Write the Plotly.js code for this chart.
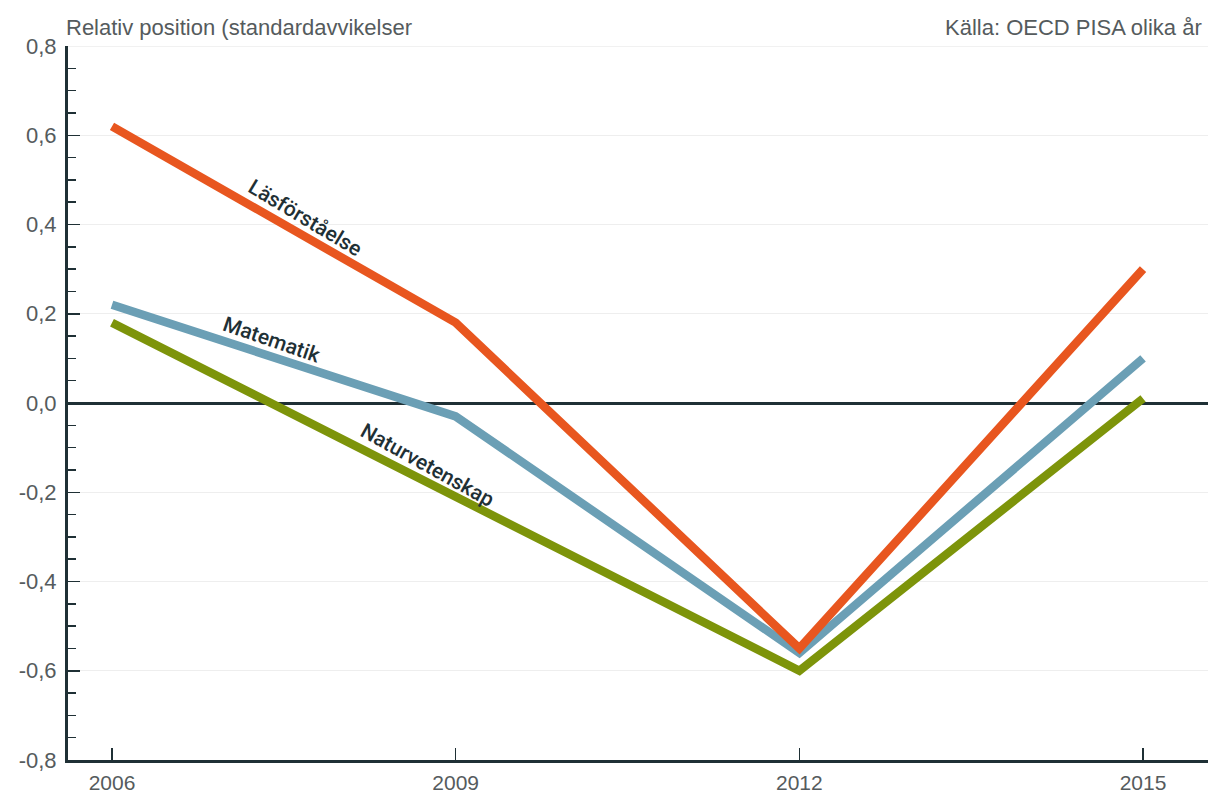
<!DOCTYPE html>
<html>
<head>
<meta charset="utf-8">
<script src="https://cdn.plot.ly/plotly-3.0.1.min.js"></script>
<style>
  html, body { margin: 0; padding: 0; background: #fff; }
  #chart { width: 1208px; height: 798px; }
</style>
</head>
<body>
<div id="chart"></div>
<script>
// ---- Data ----
const years = [2006, 2009, 2012, 2015];
const lasforstaelse = [0.62, 0.18, -0.55, 0.30];
const matematik = [0.22, -0.03, -0.56, 0.10];
const naturvetenskap = [0.18, -0.21, -0.60, 0.01];

const seriesNames = ["Läsförståelse", "Matematik", "Naturvetenskap"];
const yTickVals = [0.8, 0.6, 0.4, 0.2, 0.0, -0.2, -0.4, -0.6, -0.8];
const yTickLabels = ["0,8", "0,6", "0,4", "0,2", "0,0", "-0,2", "-0,4", "-0,6", "-0,8"];
const xTickVals = [2006, 2009, 2012, 2015];
const xTickLabels = ["2006", "2009", "2012", "2015"];

const yAxisTitle = "Relativ position (standardavvikelser";
const sourceText = "Källa: OECD PISA olika år";

// ---- Styles ----
const colors = ["#e8561f", "#6b9fb5", "#7d940a"];
const dark = "#1f3035";
const grey = "#555b5d";

const seriesData = [lasforstaelse, matematik, naturvetenskap];
const traces = seriesData.map((vals, i) => ({
  x: years,
  y: vals,
  name: seriesNames[i],
  type: "scatter",
  mode: "lines",
  line: { color: colors[i], width: 8.5 },
  hoverinfo: "x+y+name"
}));
// draw orange on top
const ordered = [traces[2], traces[1], traces[0]];

const labelFont = { family: "Roboto, 'DejaVu Sans', sans-serif", size: 21, color: dark, weight: 500 };
const textFont = { family: "'Liberation Sans', Arial, sans-serif", size: 22, color: grey };
const xTickFont = { family: "'Liberation Sans', Arial, sans-serif", size: 21, color: grey };

const layout = {
  width: 1208,
  height: 798,
  margin: { l: 68, r: 0, t: 46, b: 38 },
  paper_bgcolor: "#fff",
  plot_bgcolor: "#fff",
  showlegend: false,
  font: textFont,
  xaxis: {
    range: [2005.616, 2015.567],
    tickvals: xTickVals,
    ticktext: xTickLabels,
    ticks: "inside",
    ticklen: 12,
    tickwidth: 1.5,
    tickcolor: dark,
    showline: true,
    linecolor: dark,
    linewidth: 3,
    showgrid: false,
    zeroline: false,
    tickfont: xTickFont,
    ticklabelstandoff: 2,
    fixedrange: true
  },
  yaxis: {
    range: [-0.8, 0.8],
    tickvals: yTickVals,
    ticktext: yTickLabels,
    ticks: "inside",
    ticklen: 12,
    tickwidth: 1.5,
    tickcolor: dark,
    showline: true,
    linecolor: dark,
    linewidth: 3,
    showgrid: true,
    gridcolor: "#eeeeee",
    gridwidth: 1,
    zeroline: true,
    zerolinecolor: dark,
    zerolinewidth: 3,
    tickfont: textFont,
    ticklabelstandoff: 4,
    minor: { dtick: 0.05, tick0: 0, ticks: "inside", ticklen: 8, tickwidth: 1.5, tickcolor: dark, showgrid: false },
    fixedrange: true
  },
  shapes: [
    { type: "line", xref: "paper", yref: "y", x0: 0, x1: 1, y0: 0.8, y1: 0.8,
      line: { color: "#e4e4e4", width: 1 }, layer: "below" }
  ],
  annotations: [
    { xref: "paper", yref: "paper", x: 0, y: 1, xshift: -4, yshift: 4, xanchor: "left", yanchor: "bottom",
      text: yAxisTitle, showarrow: false, font: textFont },
    { xref: "paper", yref: "paper", x: 1, y: 1, xshift: -4, yshift: 4, xanchor: "right", yanchor: "bottom",
      text: sourceText, showarrow: false, font: textFont },
    { x: 2007.685, y: 0.414, text: seriesNames[0], showarrow: false, textangle: 31, font: labelFont },
    { x: 2007.40, y: 0.141, text: seriesNames[1], showarrow: false, textangle: 19, font: labelFont },
    { x: 2008.75, y: -0.139, text: seriesNames[2], showarrow: false, textangle: 29, font: labelFont }
  ]
};

Plotly.newPlot("chart", ordered, layout, { displayModeBar: false, staticPlot: true });
</script>
</body>
</html>
